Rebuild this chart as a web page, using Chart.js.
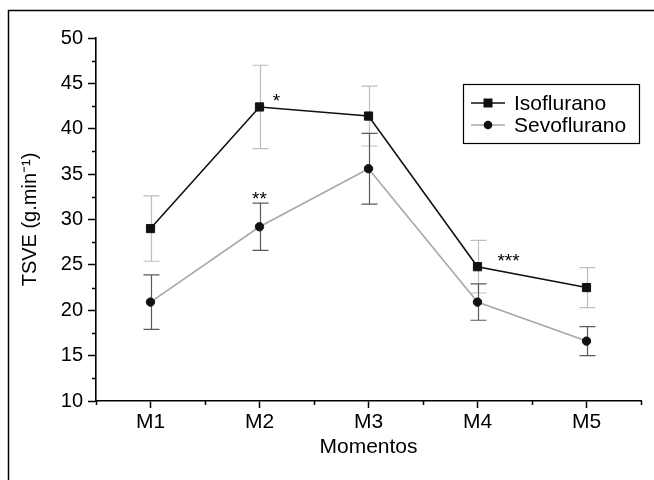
<!DOCTYPE html>
<html>
<head>
<meta charset="utf-8">
<script src="https://cdn.jsdelivr.net/npm/chart.js@4.4.1/dist/chart.umd.min.js"></script>
<style>
  html, body { margin: 0; padding: 0; background: #fff; }
  #wrap { width: 654px; height: 480px; }
</style>
</head>
<body>
<div id="wrap"><canvas id="tsveChart" width="654" height="480"></canvas></div>
<script>
// dados (média e desvio padrão)
const momentos = ['M1', 'M2', 'M3', 'M4', 'M5'];
const isoflurano = [29.0, 42.4, 41.4, 24.8, 22.5];
const isofluranoSd = [3.6, 4.6, 3.3, 2.9, 2.2];
const sevoflurano = [20.9, 29.2, 35.6, 20.9, 16.6];
const sevofluranoSd = [3.0, 2.6, 3.9, 2.0, 1.6];
const isofluranoSig = ['', '*', '', '***', ''];
const sevofluranoSig = ['', '**', '', '', ''];
const yTicks = [10, 15, 20, 25, 30, 35, 40, 45, 50];

Chart.defaults.font.family = "'Liberation Sans', Arial, sans-serif";
Chart.defaults.color = '#000';

// moldura (só topo e esquerda aparecem no recorte)
const framePlugin = {
    id: 'frame',
    beforeDraw(chart) {
        const ctx = chart.ctx;
        ctx.save();
        ctx.fillStyle = '#fff';
        ctx.fillRect(0, 0, chart.width, chart.height);
        ctx.strokeStyle = '#000';
        ctx.lineWidth = 1.5;
        ctx.beginPath();
        ctx.moveTo(8.5, chart.height);
        ctx.lineTo(8.5, 10.5);
        ctx.lineTo(chart.width, 10.5);
        ctx.stroke();
        ctx.restore();
    }
};

// tracinhos menores nos eixos
const minorTicksPlugin = {
    id: 'minorTicks',
    afterDraw(chart) {
        const { ctx, scales: { x, y } } = chart;
        ctx.save();
        ctx.strokeStyle = '#000';
        ctx.lineWidth = 1.5;
        ctx.beginPath();
        yTicks.slice(1).forEach((v, i) => {
            const py = Math.round(y.getPixelForValue((v + yTicks[i]) / 2)) + 0.5;
            ctx.moveTo(x.left, py);
            ctx.lineTo(x.left - 4, py);
        });
        for (let i = 0; i <= momentos.length; i++) {
            const px = Math.round(x.getPixelForValue(i - 0.5)) + 0.5;
            ctx.moveTo(px, y.bottom);
            ctx.lineTo(px, y.bottom + 4);
        }
        ctx.stroke();
        ctx.restore();
    }
};

const errorBarPlugin = {
    id: 'errorBars',
    beforeDatasetsDraw(chart) {
        const { ctx, scales: { x, y } } = chart;
        ctx.save();
        chart.data.datasets.forEach(ds => {
            ctx.strokeStyle = ds.errorColor;
            ctx.lineWidth = 1.2;
            ds.data.forEach((v, i) => {
                const px = Math.round(x.getPixelForValue(i)) + 0.5;
                const top = y.getPixelForValue(v + ds.errors[i]);
                const bot = y.getPixelForValue(v - ds.errors[i]);
                ctx.beginPath();
                ctx.moveTo(px, top);
                ctx.lineTo(px, bot);
                ctx.moveTo(px - 8, top);
                ctx.lineTo(px + 8, top);
                ctx.moveTo(px - 8, bot);
                ctx.lineTo(px + 8, bot);
                ctx.stroke();
            });
        });
        ctx.restore();
    }
};

const significancePlugin = {
    id: 'significance',
    afterDatasetsDraw(chart) {
        const { ctx, scales: { x, y } } = chart;
        ctx.save();
        ctx.fillStyle = '#000';
        ctx.font = "19px 'Liberation Sans', Arial, sans-serif";
        ctx.textAlign = 'center';
        ctx.textBaseline = 'alphabetic';
        isofluranoSig.forEach((s, i) => {
            if (!s) return;
            const px = x.getPixelForValue(i) + 10 + 7 * s.length;
            ctx.fillText(s, px, y.getPixelForValue(isoflurano[i]));
        });
        sevofluranoSig.forEach((s, i) => {
            if (!s) return;
            const px = x.getPixelForValue(i);
            ctx.fillText(s, px, y.getPixelForValue(sevoflurano[i] + sevofluranoSd[i]) + 1.5);
        });
        ctx.restore();
    }
};

const legendBoxPlugin = {
    id: 'legendBox',
    afterDraw(chart) {
        const ctx = chart.ctx;
        const box = { left: 463, top: 84, width: 176, height: 59 };
        ctx.save();
        ctx.strokeStyle = '#000';
        ctx.lineWidth = 1.2;
        ctx.strokeRect(box.left + 0.5, box.top + 0.5, box.width, box.height);
        ctx.font = "21px 'Liberation Sans', Arial, sans-serif";
        ctx.textBaseline = 'middle';
        ctx.fillStyle = '#000';
        chart.data.datasets.forEach((ds, i) => {
            const ry = box.top + 19 + i * 22;
            ctx.strokeStyle = ds.borderColor;
            ctx.lineWidth = ds.borderWidth;
            ctx.beginPath();
            ctx.moveTo(box.left + 8, ry);
            ctx.lineTo(box.left + 42, ry);
            ctx.stroke();
            ctx.fillStyle = ds.pointBackgroundColor;
            const mx = box.left + 25;
            if (ds.pointStyle === 'rect') {
                ctx.fillRect(mx - 4.5, ry - 4.5, 9, 9);
            } else {
                ctx.beginPath();
                ctx.arc(mx, ry, 4.3, 0, Math.PI * 2);
                ctx.fill();
            }
            ctx.fillStyle = '#000';
            ctx.fillText(ds.label, box.left + 51, ry + 1);
        });
        ctx.restore();
    }
};

const ctx = document.getElementById('tsveChart').getContext('2d');

window.tsveChart = new Chart(ctx, {
    type: 'line',
    data: {
        labels: momentos,
        datasets: [{
            label: 'Isoflurano',
            data: isoflurano,
            errors: isofluranoSd,
            errorColor: '#bdbdbd',
            borderColor: '#111',
            borderWidth: 1.6,
            pointStyle: 'rect',
            pointRadius: 5.8,
            pointBackgroundColor: '#111',
            pointBorderColor: '#111',
            pointBorderWidth: 1,
        }, {
            label: 'Sevoflurano',
            data: sevoflurano,
            errors: sevofluranoSd,
            errorColor: '#5a5a5a',
            borderColor: '#a8a8a8',
            borderWidth: 1.6,
            pointStyle: 'circle',
            pointRadius: 4.2,
            pointBackgroundColor: '#111',
            pointBorderColor: '#111',
            pointBorderWidth: 1,
        }],
    },
    options: {
        responsive: false,
        animation: false,
        layout: {
            padding: { left: 0, top: 38, right: 13, bottom: 0 },
        },
        plugins: {
            legend: { display: false },
            tooltip: { enabled: false },
        },
        scales: {
            x: {
                type: 'category',
                offset: true,
                grid: {
                    drawOnChartArea: false,
                    offset: false,
                    tickLength: 7,
                    tickWidth: 1.5,
                    tickColor: '#000',
                },
                border: { display: true, color: '#000', width: 1.6 },
                ticks: { color: '#000', font: { size: 21 }, padding: 2, maxRotation: 0 },
                title: {
                    display: true,
                    text: 'Momentos',
                    color: '#000',
                    font: { size: 21 },
                    padding: { top: 0, bottom: 20 },
                },
                afterFit: (scale) => { scale.height = 79; },
            },
            y: {
                min: 10,
                max: 50,
                afterBuildTicks: (scale) => { scale.ticks = yTicks.map(v => ({ value: v })); },
                grid: {
                    drawOnChartArea: false,
                    tickLength: 8,
                    tickWidth: 1.5,
                    tickColor: '#000',
                },
                border: { display: true, color: '#000', width: 1.6 },
                ticks: { color: '#000', font: { size: 20 }, padding: 5 },
                title: {
                    display: true,
                    text: 'TSVE (g.min⁻¹)',
                    color: '#000',
                    font: { size: 20 },
                    padding: { top: 18, bottom: 0 },
                },
                afterFit: (scale) => { scale.width = 96; },
            },
        },
    },
    plugins: [framePlugin, minorTicksPlugin, errorBarPlugin, significancePlugin, legendBoxPlugin],
});
</script>
</body>
</html>
